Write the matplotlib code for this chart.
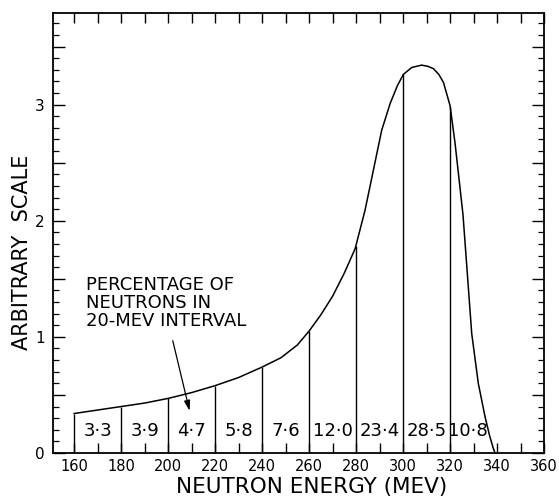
import numpy as np
import matplotlib.pyplot as plt
from matplotlib.ticker import MultipleLocator, FuncFormatter

# spectrum (MeV, arbitrary units)
energy = [160, 170, 180, 190, 200, 210, 220, 230, 240, 248, 255, 260, 265, 270,
          275, 279.6, 283.8, 287.4, 290.9, 294.5, 297.5, 300.1, 303.7, 307.9,
          310.5, 312.9, 315.2, 317.2, 320, 322.1, 324.3, 325.5, 327.1, 329.2,
          332, 334.9, 336.8, 338.4, 339.1]
intensity = [0.34, 0.37, 0.40, 0.43, 0.47, 0.52, 0.58, 0.65, 0.74, 0.82, 0.93, 1.05,
             1.19, 1.35, 1.55, 1.76, 2.09, 2.44, 2.78, 3.01, 3.16, 3.26, 3.32, 3.34,
             3.33, 3.31, 3.26, 3.19, 2.99, 2.67, 2.27, 2.05, 1.61, 1.03,
             0.60, 0.31, 0.15, 0.04, 0.0]

# interval boundaries and percentage of neutrons per 20-MeV bin
edges = [160, 180, 200, 220, 240, 260, 280, 300, 320]
edge_heights = [0.34, 0.40, 0.47, 0.58, 0.74, 1.05, 1.78, 3.26, 2.99]
pct_centers = [170, 190, 210, 230, 250, 270, 290, 310, 327.5]
pct_labels = ["3·3", "3·9", "4·7", "5·8", "7·6", "12·0", "23·4", "28·5", "10·8"]

fig = plt.figure(figsize=(5.59, 4.99), dpi=100)
ax = fig.add_axes([0.0948, 0.0922, 0.8785, 0.882])

ax.plot(energy, intensity, color="black", lw=1.1)
ax.vlines(edges, 0, edge_heights, color="black", lw=1.0)

for xc, lab in zip(pct_centers, pct_labels):
    ax.text(xc, 0.19, lab, ha="center", va="center", fontsize=13)

ax.text(165, 1.52, "PERCENTAGE OF\nNEUTRONS IN\n20-MEV INTERVAL",
        ha="left", va="top", fontsize=13, linespacing=0.98)
ax.annotate("", xy=(209.4, 0.34), xytext=(201.7, 0.99),
            arrowprops=dict(arrowstyle="-|>,head_length=0.6,head_width=0.18",
                            color="black", lw=0.9))

ax.set_xlim(151, 360)
ax.set_ylim(0, 3.79)

ax.set_xticks(range(160, 361, 20))
ax.xaxis.set_minor_locator(MultipleLocator(10))
ax.yaxis.set_major_locator(MultipleLocator(0.5))
ax.yaxis.set_minor_locator(MultipleLocator(0.1))
ax.yaxis.set_major_formatter(FuncFormatter(
    lambda v, p: str(int(round(v))) if abs(v - round(v)) < 1e-6 else ""))

ax.tick_params(axis="x", which="both", direction="in", top=True, bottom=True,
               length=7, width=1.0, labelsize=10.5, pad=4)
ax.tick_params(axis="y", which="major", direction="in", left=True, right=True,
               length=8.5, width=1.0, labelsize=11, pad=6)
ax.tick_params(axis="y", which="minor", direction="in", left=True, right=True,
               length=4, width=0.9)

for s in ax.spines.values():
    s.set_linewidth(1.3)

fig.text(0.558, 0.024, "NEUTRON ENERGY (MEV)", ha="center", va="center", fontsize=15.5)
fig.text(0.04, 0.495, "ARBITRARY  SCALE", ha="center", va="center",
         rotation=90, fontsize=15)

fig.savefig("out.png", dpi=100)
